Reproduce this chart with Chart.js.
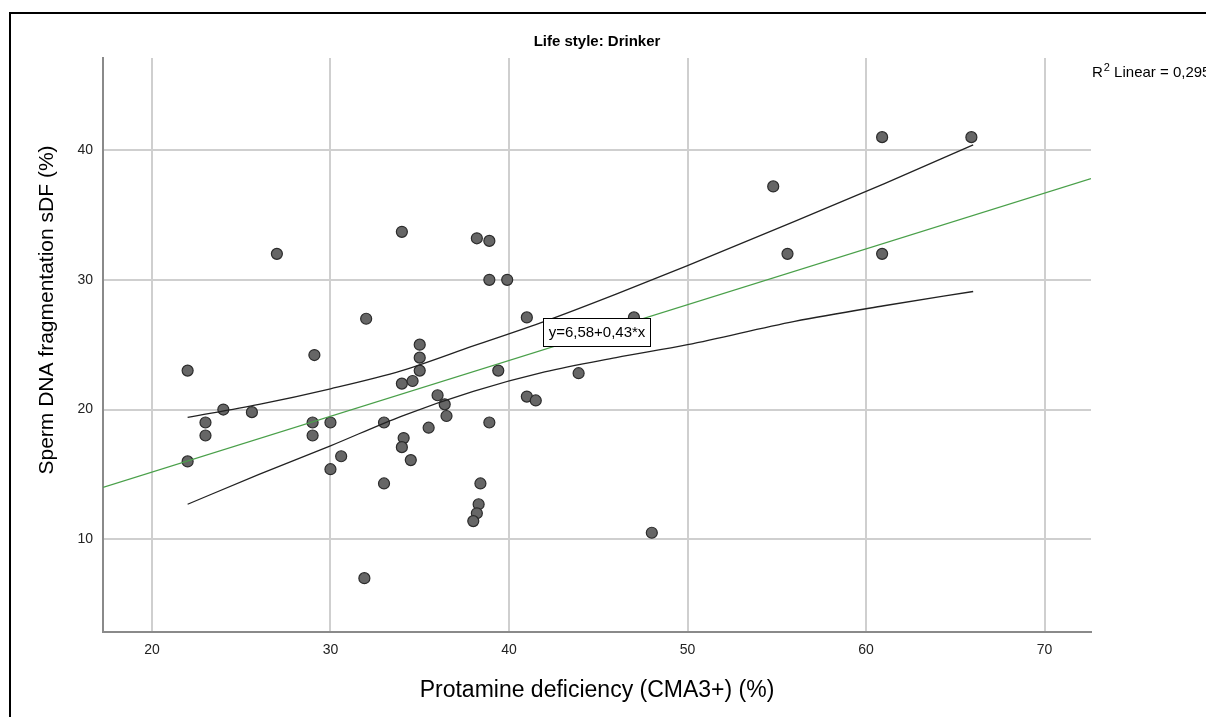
<!DOCTYPE html>
<html lang="en">
<head>
    <meta charset="UTF-8">
    <title>Life style: Drinker</title>
    <script src="https://cdn.jsdelivr.net/npm/chart.js"></script>
    <style>
        body { margin: 0; background: #fff; }
        canvas { display: block; }
    </style>
</head>
<body>
    <canvas id="myChart" width="1206" height="717"></canvas>
    <script>
        // Protamine deficiency (x) vs sperm DNA fragmentation (y)
        const protamine = [22, 22, 23, 23, 24, 25.6, 27, 29, 29, 29.1, 30, 30, 30.6, 31.9, 32, 33, 33, 34, 34, 34.6,
            35, 35, 35, 34.1, 34, 34.5, 35.5, 36, 36.4, 36.5, 38.2, 38.9, 38.9, 39.9, 38.9, 38.4, 38.3, 38.2, 38.0,
            39.4, 41, 41, 41.5, 43.9, 47, 48, 54.8, 55.6, 60.9, 60.9, 65.9];
        const sdf = [23, 16, 19, 18, 20, 19.8, 32, 19, 18, 24.2, 19, 15.4, 16.4, 7, 27, 19, 14.3, 33.7, 22, 22.2,
            25, 24, 23, 17.8, 17.1, 16.1, 18.6, 21.1, 20.4, 19.5, 33.2, 33, 30, 30, 19, 14.3, 12.7, 12.0, 11.4,
            23, 27.1, 21, 20.7, 22.8, 27.1, 10.5, 37.2, 32, 41, 32, 41];

        // fit line end points (green)
        const fitX = [17.26, 72.6];
        const fitY = [14.0, 37.8];

        // 95% mean confidence bands (black curves)
        const bandX = [22, 26, 30, 34, 38, 42, 46, 50, 56, 61, 66];
        const upperY = [19.4, 20.4, 21.6, 23.0, 24.9, 26.8, 28.9, 31.1, 34.5, 37.4, 40.4];
        const lowerY = [12.7, 15.0, 17.2, 19.5, 21.4, 22.9, 24.0, 25.0, 26.8, 28.0, 29.1];

        const xTicks = [20, 30, 40, 50, 60, 70];
        const yTicks = [10, 20, 30, 40];

        const titleText = 'Life style: Drinker';
        const xTitle = 'Protamine deficiency (CMA3+) (%)';
        const yTitle = 'Sperm DNA fragmentation sDF (%)';
        const equationText = 'y=6,58+0,43*x';
        const rSquaredText = '0,295';

        const FONT = '"Liberation Sans", Arial, sans-serif';

        const pairs = (xs, ys) => xs.map((x, i) => ({ x: x, y: ys[i] }));

        const extrasPlugin = {
            id: 'extras',
            beforeDraw(chart) {
                const c = chart.ctx;
                const area = chart.chartArea;
                c.save();
                c.fillStyle = '#fff';
                c.fillRect(0, 0, chart.width, chart.height);
                // outer frame (left + top only visible)
                c.strokeStyle = '#000';
                c.lineWidth = 2;
                c.beginPath();
                c.moveTo(10, chart.height + 5);
                c.lineTo(10, 13);
                c.lineTo(chart.width + 5, 13);
                c.stroke();

                // chart title, centred over the plot area
                c.fillStyle = '#000';
                c.font = 'bold 15px ' + FONT;
                c.textAlign = 'center';
                c.textBaseline = 'middle';
                c.fillText(titleText, (area.left + area.right) / 2, 42);

                // y axis title
                c.font = '21px ' + FONT;
                c.translate(47, 310);
                c.rotate(-Math.PI / 2);
                c.fillText(yTitle, 0, 0);
                c.restore();
            },
            afterDatasetsDraw(chart) {
                const c = chart.ctx;
                const xs = chart.scales.x, ys = chart.scales.y;
                c.save();
                // equation label
                c.font = '15px ' + FONT;
                const w = Math.round(c.measureText(equationText).width + 10);
                const h = 28;
                const cx = xs.getPixelForValue(44.9);
                const cy = ys.getPixelForValue(26.0);
                const bx = Math.round(cx - w / 2), by = Math.round(cy - h / 2);
                c.fillStyle = '#fff';
                c.fillRect(bx, by, w, h);
                c.strokeStyle = '#000';
                c.lineWidth = 1;
                c.strokeRect(bx + 0.5, by + 0.5, w, h);
                c.fillStyle = '#000';
                c.textAlign = 'center';
                c.textBaseline = 'middle';
                c.fillText(equationText, bx + w / 2 + 0.5, by + h / 2 + 1);

                // R² label at top right (runs off the edge as in the original)
                const area = chart.chartArea;
                let tx = area.right + 1;
                const ty = 77;
                c.textAlign = 'left';
                c.textBaseline = 'alphabetic';
                c.font = '15px ' + FONT;
                c.fillText('R', tx, ty);
                tx += c.measureText('R').width + 1;
                c.font = '11px ' + FONT;
                c.fillText('2', tx, ty - 6);
                tx += c.measureText('2').width;
                c.font = '15px ' + FONT;
                c.fillText(' Linear = ' + rSquaredText, tx, ty);
                c.restore();
            }
        };

        const ctx = document.getElementById('myChart').getContext('2d');
        const chart = new Chart(ctx, {
            type: 'scatter',
            data: {
                datasets: [
                    {
                        label: 'sDF',
                        data: pairs(protamine, sdf),
                        backgroundColor: '#666666',
                        borderColor: '#2b2b2b',
                        borderWidth: 1.2,
                        pointRadius: 5.5,
                        order: 2
                    },
                    {
                        label: 'Fit',
                        data: pairs(fitX, fitY),
                        showLine: true,
                        borderColor: '#4aa04a',
                        borderWidth: 1.3,
                        pointRadius: 0,
                        order: 1
                    },
                    {
                        label: 'Upper',
                        data: pairs(bandX, upperY),
                        showLine: true,
                        cubicInterpolationMode: 'monotone',
                        borderColor: '#222',
                        borderWidth: 1.3,
                        pointRadius: 0,
                        order: 1
                    },
                    {
                        label: 'Lower',
                        data: pairs(bandX, lowerY),
                        showLine: true,
                        cubicInterpolationMode: 'monotone',
                        borderColor: '#222',
                        borderWidth: 1.3,
                        pointRadius: 0,
                        order: 1
                    }
                ]
            },
            options: {
                responsive: false,
                animation: false,
                devicePixelRatio: 1,
                layout: { padding: { left: 0, right: 115, top: 58, bottom: 0 } },
                plugins: {
                    legend: { display: false },
                    tooltip: { enabled: false },
                    title: { display: false }
                },
                scales: {
                    x: {
                        type: 'linear',
                        min: 17.26,
                        max: 72.6,
                        afterBuildTicks: s => { s.ticks = xTicks.map(v => ({ value: v })); },
                        afterFit: s => { s.height = 85; },
                        ticks: {
                            color: '#222',
                            font: { family: FONT, size: 14 },
                            padding: 10,
                            maxRotation: 0
                        },
                        grid: { color: '#cfcfcf', lineWidth: 2, drawTicks: false },
                        border: { color: '#8a8a8a', width: 2 },
                        title: {
                            display: true,
                            text: xTitle,
                            color: '#000',
                            font: { family: FONT, size: 23 },
                            padding: { top: 0, bottom: 13 }
                        }
                    },
                    y: {
                        type: 'linear',
                        min: 2.85,
                        max: 47.1,
                        afterBuildTicks: s => { s.ticks = yTicks.map(v => ({ value: v })); },
                        afterFit: s => { s.width = 103; },
                        ticks: {
                            color: '#222',
                            font: { family: FONT, size: 14 },
                            padding: 10
                        },
                        grid: { color: '#cfcfcf', lineWidth: 2, drawTicks: false },
                        border: { color: '#8a8a8a', width: 2 }
                    }
                }
            },
            plugins: [extrasPlugin]
        });
    </script>
</body>
</html>
